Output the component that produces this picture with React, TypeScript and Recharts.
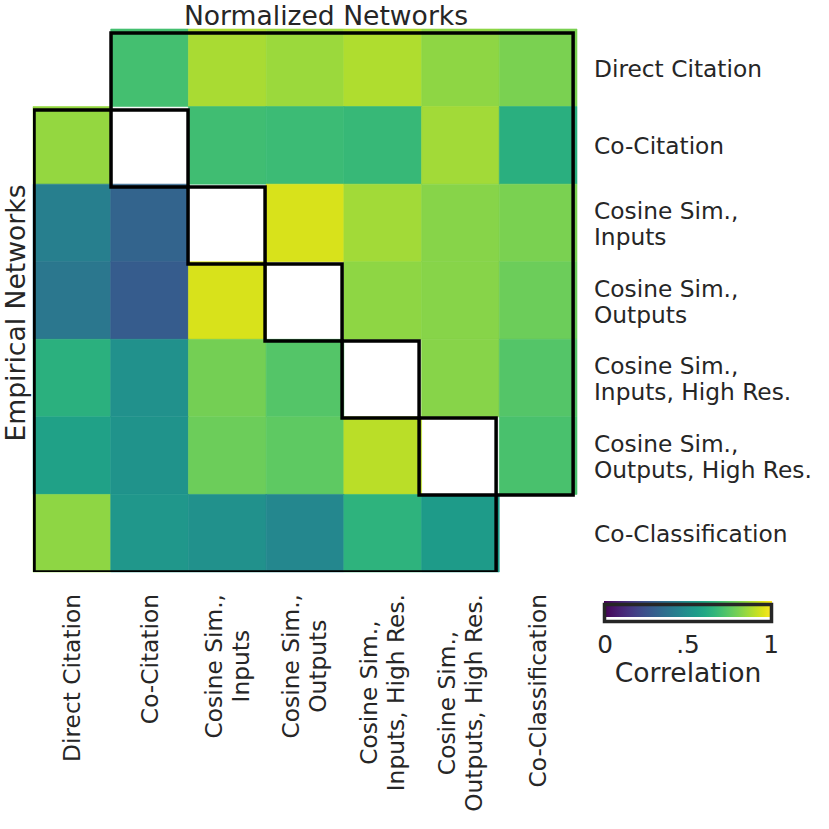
import React from 'react';
import { ScatterChart, Scatter, XAxis, YAxis, ReferenceArea } from 'recharts';

// Network names, one entry per row / column (multi-line labels)
const NETWORKS: string[][] = [
  ['Direct Citation'],
  ['Co-Citation'],
  ['Cosine Sim.,', 'Inputs'],
  ['Cosine Sim.,', 'Outputs'],
  ['Cosine Sim.,', 'Inputs, High Res.'],
  ['Cosine Sim.,', 'Outputs, High Res.'],
  ['Co-Classification'],
];

// Correlation rows: above the diagonal = normalized, below = empirical, null = no cell
const DIRECT_CITATION = [null, 0.7, 0.87, 0.85, 0.88, 0.83, 0.8];
const CO_CITATION = [0.84, null, 0.69, 0.68, 0.67, 0.86, 0.63];
const COS_INPUTS = [0.43, 0.32, null, 0.94, 0.86, 0.82, 0.8];
const COS_OUTPUTS = [0.395, 0.29, 0.94, null, 0.83, 0.82, 0.775];
const COS_INPUTS_HR = [0.635, 0.5, 0.79, 0.73, null, 0.82, 0.73];
const COS_OUTPUTS_HR = [0.57, 0.51, 0.775, 0.75, 0.895, null, 0.71];
const CO_CLASSIFICATION = [0.83, 0.525, 0.5, 0.46, 0.645, 0.545, null];

const COLORBAR_TICKS = [0, 0.5, 1];
const COLORBAR_TICK_LABELS = ['0', '.5', '1'];

const ROWS = [
  DIRECT_CITATION,
  CO_CITATION,
  COS_INPUTS,
  COS_OUTPUTS,
  COS_INPUTS_HR,
  COS_OUTPUTS_HR,
  CO_CLASSIFICATION,
];
const N = NETWORKS.length;

// viridis colormap sampled every 0.05
const VIRIDIS = [
  '#440154', '#471365', '#482475', '#463480', '#414487', '#3b528b', '#355f8d',
  '#2f6c8e', '#2a788e', '#25848e', '#21918c', '#1e9c89', '#22a884', '#2fb47c',
  '#44bf70', '#5ec962', '#7ad151', '#9bd93c', '#bddf26', '#dfe318', '#fde725',
];

function hexToRgb(h: string) {
  return [1, 3, 5].map((i) => parseInt(h.slice(i, i + 2), 16));
}

function viridis(v: number) {
  const t = Math.max(0, Math.min(1, v)) * (VIRIDIS.length - 1);
  const i = Math.min(Math.floor(t), VIRIDIS.length - 2);
  const f = t - i;
  const a = hexToRgb(VIRIDIS[i]);
  const b = hexToRgb(VIRIDIS[i + 1]);
  const c = a.map((av, k) => Math.round(av + (b[k] - av) * f));
  return `rgb(${c[0]},${c[1]},${c[2]})`;
}

const CELLS = ROWS.flatMap((row, r) =>
  row.map((value, c) => ({ r, c, value })).filter((d) => d.value !== null)
) as { r: number; c: number; value: number }[];

// the outlines sit a touch inside the cell grid (as in the original figure)
const nudge = (p: { x: number; y: number }) => ({
  x: 0.013 + p.x * 0.991,
  y: 0.05 + p.y * 0.993,
});

// staircase outlines around the two triangles (diagonal included)
const UPPER_OUTLINE = (() => {
  const pts = [{ x: 1, y: 0 }, { x: N, y: 0 }, { x: N, y: N - 1 }];
  for (let k = N - 2; k >= 2; k--) {
    pts.push({ x: k, y: k + 1 }, { x: k, y: k });
  }
  pts.push({ x: 1, y: 2 }, { x: 1, y: 0 });
  return pts.map(nudge);
})();

const LOWER_OUTLINE = (() => {
  const pts = [{ x: 0, y: 1 }];
  for (let k = 2; k <= N - 1; k++) {
    pts.push({ x: k, y: k - 1 }, { x: k, y: k });
  }
  pts.push({ x: N - 1, y: N }, { x: 0, y: N }, { x: 0, y: 1 });
  return pts.map(nudge);
})();

const TICKS = NETWORKS.map((_, i) => i + 0.5);

const FONT = '"DejaVu Sans", Verdana, sans-serif';
const TEXT = '#262626';
const TICK_SIZE = 23.3;
const LABEL_SIZE = 26.6;

let ctx: CanvasRenderingContext2D | null = null;
function measure(s: string) {
  if (!ctx) ctx = document.createElement('canvas').getContext('2d');
  if (!ctx) return s.length * TICK_SIZE * 0.6;
  ctx.font = `${TICK_SIZE}px "DejaVu Sans"`;
  return ctx.measureText(s).width;
}

function XTick(props: any) {
  const { x, y, payload } = props;
  const lines = NETWORKS[Math.floor(payload.value)];
  const blockW = Math.max(...lines.map(measure));
  const mid = y + 22 + blockW / 2;
  return (
    <g>
      {lines.map((ln, i) => {
        const bx = x + 8 + (i - (lines.length - 1) / 2) * 27;
        return (
          <text
            key={i}
            x={bx}
            y={mid}
            transform={`rotate(-90 ${bx} ${mid})`}
            textAnchor="middle"
            fontFamily={FONT}
            fontSize={TICK_SIZE}
            fill={TEXT}
          >
            {ln}
          </text>
        );
      })}
    </g>
  );
}

function YTick(props: any) {
  const { x, y, payload } = props;
  const lines = NETWORKS[Math.floor(payload.value)];
  return (
    <g>
      {lines.map((ln, i) => (
        <text
          key={i}
          x={x + 17}
          y={y + 9 + (i - (lines.length - 1) / 2) * 26}
          textAnchor="start"
          fontFamily={FONT}
          fontSize={TICK_SIZE}
          fill={TEXT}
        >
          {ln}
        </text>
      ))}
    </g>
  );
}

const outlineLine = {
  stroke: '#000',
  strokeWidth: 3.5,
  strokeLinecap: 'square',
  strokeLinejoin: 'miter',
  fill: 'none',
};

function Colorbar() {
  const x0 = 605;
  const x1 = 771;
  return (
    <svg
      width={829}
      height={829}
      style={{ position: 'absolute', left: 0, top: 0, pointerEvents: 'none' }}
    >
      <defs>
        <linearGradient id="viridis" x1="0" x2="1" y1="0" y2="0">
          {VIRIDIS.map((c, i) => (
            <stop key={i} offset={i / (VIRIDIS.length - 1)} stopColor={c} />
          ))}
        </linearGradient>
      </defs>
      <text x={326} y={24.5} textAnchor="middle" fontFamily={FONT} fontSize={LABEL_SIZE} fill={TEXT}>
        Normalized Networks
      </text>
      <text
        x={24.5}
        y={313}
        transform="rotate(-90 24.5 313)"
        textAnchor="middle"
        fontFamily={FONT}
        fontSize={LABEL_SIZE}
        fill={TEXT}
      >
        Empirical Networks
      </text>
      <rect x={x0 - 1} y={601} width={x1 - x0 + 2} height={16} fill="url(#viridis)" />
      <rect x={x0 - 0.5} y={604.5} width={x1 - x0 + 1} height={17} fill="none" stroke={TEXT} strokeWidth={3.5} />
      {COLORBAR_TICKS.map((t, i) => (
        <text
          key={i}
          x={x0 + (x1 - x0) * t}
          y={652.5}
          textAnchor="middle"
          fontFamily={FONT}
          fontSize={LABEL_SIZE * 0.93}
          fill={TEXT}
        >
          {COLORBAR_TICK_LABELS[i]}
        </text>
      ))}
      <text x={688} y={681.5} textAnchor="middle" fontFamily={FONT} fontSize={LABEL_SIZE} fill={TEXT}>
        Correlation
      </text>
    </svg>
  );
}

export default function App() {
  return (
    <div style={{ position: 'absolute', left: 0, top: 0, width: 829, height: 829, background: '#fff' }}>
      <ScatterChart
        width={829}
        height={829}
        margin={{ top: 29, left: 33, right: 22, bottom: 17 }}
      >
        <XAxis
          type="number"
          dataKey="x"
          domain={[0, N]}
          ticks={TICKS}
          interval={0}
          allowDataOverflow
          axisLine={false}
          tickLine={false}
          tickSize={0}
          tickMargin={0}
          height={240}
          tick={<XTick />}
        />
        <YAxis
          type="number"
          dataKey="y"
          domain={[0, N]}
          ticks={TICKS}
          interval={0}
          reversed
          allowDataOverflow
          orientation="right"
          axisLine={false}
          tickLine={false}
          tickSize={0}
          tickMargin={0}
          width={230}
          tick={<YTick />}
        />
        {CELLS.map((d) => (
          <ReferenceArea
            key={`${d.r}-${d.c}`}
            x1={d.c}
            x2={d.c + 1}
            y1={d.r}
            y2={d.r + 1}
            fill={viridis(d.value)}
            fillOpacity={1}
            stroke={viridis(d.value)}
            strokeWidth={0.6}
            ifOverflow="visible"
          />
        ))}
        <Scatter
          data={UPPER_OUTLINE}
          line={outlineLine}
          lineType="joint"
          shape={() => <g />}
          isAnimationActive={false}
        />
        <Scatter
          data={LOWER_OUTLINE}
          line={outlineLine}
          lineType="joint"
          shape={() => <g />}
          isAnimationActive={false}
        />
      </ScatterChart>
      <Colorbar />
    </div>
  );
}
